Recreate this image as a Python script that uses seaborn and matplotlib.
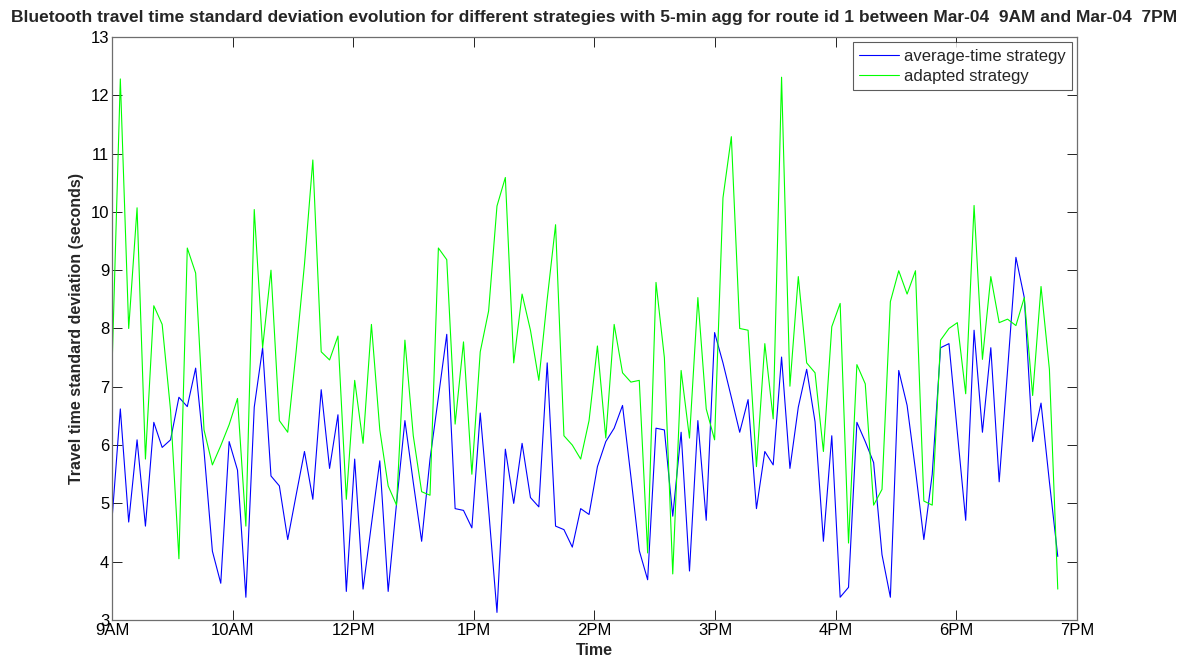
import numpy as np
import pandas as pd
import matplotlib
matplotlib.use("Agg")
import matplotlib.pyplot as plt
import seaborn as sns

# std dev (seconds), one value per 5-min bin starting 9AM
average_time = [4.71, 6.62, 4.68, 6.09, 4.61, 6.39, 5.96, 6.09, 6.82, 6.66,
                7.32, 5.90, 4.18, 3.63, 6.06, 5.57, 3.39, 6.65, 7.67, 5.47,
                5.30, 4.38, 5.14, 5.89, 5.07, 6.95, 5.60, 6.52, 3.49, 5.76,
                3.53, 4.64, 5.73, 3.49, 5.00, 6.42, 5.36, 4.35, 5.76, 6.82,
                7.90, 4.91, 4.88, 4.58, 6.55, 4.90, 3.13, 5.93, 5.00, 6.03,
                5.10, 4.94, 7.41, 4.61, 4.55, 4.25, 4.91, 4.81, 5.63, 6.06,
                6.29, 6.68, 5.46, 4.19, 3.69, 6.29, 6.26, 4.78, 6.22, 3.84,
                6.42, 4.71, 7.93, 7.41, 6.82, 6.22, 6.78, 4.91, 5.89, 5.66,
                7.51, 5.60, 6.65, 7.30, 6.40, 4.35, 6.16, 3.39, 3.56, 6.39,
                6.06, 5.70, 4.12, 3.39, 7.28, 6.68, 5.57, 4.38, 5.50, 7.67,
                7.74, 6.22, 4.71, 7.97, 6.22, 7.67, 5.37, 7.28, 9.22, 8.53,
                6.06, 6.72, 5.37, 4.09]

adapted = [7.28, 12.28, 8.00, 10.07, 5.76, 8.39, 8.07, 6.60, 4.05, 9.38,
           8.95, 6.26, 5.66, 5.99, 6.35, 6.80, 4.61, 10.04, 7.67, 9.00,
           6.42, 6.22, 7.60, 9.10, 10.89, 7.60, 7.46, 7.87, 5.07, 7.11,
           6.03, 8.07, 6.26, 5.30, 4.97, 7.80, 6.16, 5.20, 5.14, 9.38,
           9.18, 6.36, 7.77, 5.50, 7.60, 8.30, 10.10, 10.59, 7.41, 8.59,
           7.97, 7.11, 8.50, 9.78, 6.16, 6.00, 5.76, 6.42, 7.70, 6.12,
           8.07, 7.24, 7.08, 7.11, 4.15, 8.79, 7.50, 3.79, 7.28, 6.12,
           8.53, 6.62, 6.09, 10.24, 11.29, 8.00, 7.97, 5.63, 7.74, 6.45,
           12.31, 7.01, 8.89, 7.41, 7.24, 5.89, 8.03, 8.43, 4.32, 7.38,
           7.05, 4.97, 5.24, 8.46, 8.99, 8.59, 8.99, 5.04, 4.97, 7.80,
           8.00, 8.10, 6.88, 10.11, 7.47, 8.89, 8.10, 8.16, 8.05, 8.53,
           6.85, 8.72, 7.30, 3.53]

tick_labels = ['9AM', '10AM', '12PM', '1PM', '2PM', '3PM', '4PM', '6PM', '7PM']

n = len(average_time)
df = pd.DataFrame({
    'slot': list(range(n)) * 2,
    'std': average_time + adapted,
    'strategy': ['average-time strategy'] * n + ['adapted strategy'] * n,
})

sns.set_style("ticks")
plt.rcParams['font.family'] = ['Liberation Sans', 'DejaVu Sans']

fig = plt.figure(figsize=(11.91, 6.59), dpi=100)
ax = fig.add_axes([0.094, 0.0592, 0.8103, 0.8847])

sns.lineplot(data=df, x='slot', y='std', hue='strategy',
             palette={'average-time strategy': '#0000ff', 'adapted strategy': '#00ff00'},
             linewidth=0.8, ax=ax)

xmax = 115.3
ax.set_xlim(0, xmax)
ax.set_ylim(3, 13)
ax.set_xticks(np.linspace(0, xmax, 9))
ax.set_xticklabels(tick_labels)
ax.set_yticks(range(3, 14))

ax.tick_params(direction='in', length=7, width=0.7, top=True, right=True,
               labelsize=12, colors='#222222', labelcolor='black', pad=2)
for s in ax.spines.values():
    s.set_visible(True)
    s.set_linewidth(0.9)
    s.set_color('#6e6e6e')

ax.set_title('Bluetooth travel time standard deviation evolution for different strategies '
             'with 5-min agg for route id 1 between Mar-04  9AM and Mar-04  7PM',
             fontsize=12.5, fontweight='bold', pad=11)
ax.set_xlabel('Time', fontsize=11.5, fontweight='bold', labelpad=4)
ax.set_ylabel('Travel time standard deviation (seconds)', fontsize=11.5, fontweight='bold', labelpad=5)

leg = ax.legend(loc='upper right', fontsize=12, frameon=True, fancybox=False,
                edgecolor='#333333', handlelength=2.4, borderaxespad=0.3,
                borderpad=0.4, labelspacing=0.3, handletextpad=0.25)
leg.get_frame().set_linewidth(0.8)
leg.set_title(None)

fig.savefig('out.png', dpi=100)
